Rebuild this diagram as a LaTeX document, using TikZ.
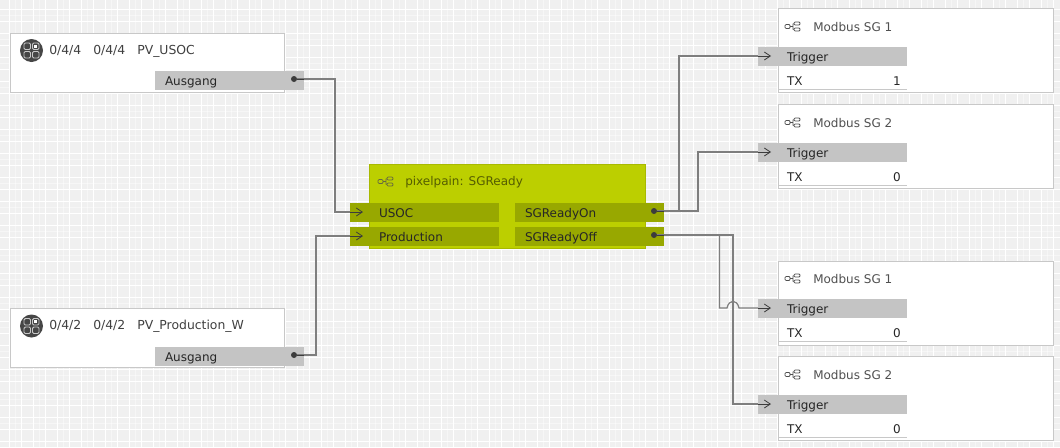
\documentclass[tikz,border=0pt]{standalone}
\usepackage{fontspec}
\setmainfont{DejaVu Sans}
\usetikzlibrary{arrows.meta}
\definecolor{gridbg}{HTML}{F0F0F0}
\definecolor{boxline}{HTML}{C8C8C8}
\definecolor{portgrey}{HTML}{C4C4C4}
\definecolor{lime}{HTML}{BCCF00}
\definecolor{limeline}{HTML}{A8B900}
\definecolor{olive}{HTML}{98A800}
\definecolor{wiregrey}{HTML}{7E7E7E}
\definecolor{pindark}{HTML}{3C3C3C}
\definecolor{titlegrey}{HTML}{505050}
\tikzset{
  block/.style={draw=boxline, line width=0.9pt, fill=white, inner sep=0pt, anchor=north west},
  kobox/.style={block, minimum width=205.5pt, minimum height=44.25pt},
  logicbox/.style={block, minimum width=206.25pt, minimum height=63pt},
  mainbox/.style={block, draw=limeline, fill=lime, minimum width=207pt, minimum height=63pt},
  field/.style={anchor=north west, inner ysep=0pt, outer sep=0pt, minimum height=14.25pt,
    align=left, text height=8.3pt, text depth=0.5pt, font=\fontsize{9}{10}\selectfont, text=black!85},
  outport/.style={field, fill=#1, inner xsep=7.5pt, text width=96.75pt},
  inport/.style={field, fill=#1, inner xsep=21.75pt, text width=68.25pt},
  txrow/.style={field, inner xsep=6.75pt, text width=83.25pt, minimum height=17.25pt, text height=12.7pt},
  title/.style={anchor=west, inner sep=0pt, font=\fontsize{9}{10}\selectfont, text=titlegrey},
  kotitle/.style={title, font=\fontsize{9.3}{10}\selectfont, text=black!75},
  dot/.style={circle, fill=pindark, inner sep=0pt, minimum size=4.5pt},
  wire/.style={draw=wiregrey, line width=0.9pt},
  pin/.style={draw=pindark, line width=0.6pt},
  pinin/.style={pin, -{Straight Barb[length=4.5pt,width=6pt]}},
  treeicon/.pic={
    \draw[draw=#1, line width=0.6pt, rounded corners=0.8pt]
      (-8,-2) rectangle (-3,2) (-3,0) -- (0,0) (0,-3) -- (0,3)
      (1,-4.5) rectangle (7,-1.5) (1,1.5) rectangle (7,4.5);
  },
  koicon/.pic={
    \fill[pindark!95] (0,0) circle (11.5);
    \draw[boxline, line width=0.7pt, rounded corners=1pt]
      (-7.5,-7.5) rectangle (-1,-1) (1,-7.5) rectangle (7.5,-1)
      (-7.5,1) rectangle (-1,7.5) (1,1) rectangle (7.5,7.5);
    \fill[white] (2.8,-5.7) rectangle (5.7,-2.8);
  }
}
\begin{document}
\begin{tikzpicture}[x=0.75pt, y=-0.75pt]
  \useasboundingbox (0,0) rectangle (1060,447);
  % raster
  \fill[gridbg] (0,0) rectangle (1060,447);
  \foreach \k in {0,...,87} \draw[white, line width=0.75pt] ({9+12*\k},0) -- ({9+12*\k},447);
  \foreach \k in {0,...,36} \draw[white, line width=0.75pt] (0,{9+12*\k}) -- (1060,{9+12*\k});
  \foreach \k in {0,...,43} \draw[white, opacity=0.45, line width=0.5pt] ({15+24*\k},0) -- ({15+24*\k},447);
  \foreach \k in {0,...,17} \draw[white, opacity=0.45, line width=0.5pt] (0,{15+24*\k}) -- (1060,{15+24*\k});

  % group addresses
  \node[kobox] (usocbox) at (10,33) {};
  \pic at (31.5,50.5) {koicon};
  \node[kotitle] (usoctitle) at (49,51.5) {0/4/4\hspace{9pt}0/4/4\hspace{9pt}PV\_USOC};
  \node[outport=portgrey] (usocport) at (155,71) {Ausgang};
  \node[dot] (usocdot) at (294,79) {};

  \node[kobox] (prodbox) at (10,308) {};
  \pic at (31.5,326) {koicon};
  \node[kotitle] (prodtitle) at (49,326.5) {0/4/2\hspace{9pt}0/4/2\hspace{9pt}PV\_Production\_W};
  \node[outport=portgrey] (prodport) at (155,347) {Ausgang};
  \node[dot] (proddot) at (294,355) {};

  % logic
  \node[mainbox] (sgbox) at (369,164) {};
  \pic at (386,181.5) {treeicon=titlegrey!80!lime};
  \node[title, text=black!55!lime] (sgtitle) at (405,182.5) {pixelpain: SGReady};
  \node[inport=olive] (usocin) at (350,203) {USOC};
  \node[inport=olive] (prodin) at (350,227) {Production};
  \node[outport=olive] (onport) at (515,203) {SGReadyOn};
  \node[outport=olive] (offport) at (515,227) {SGReadyOff};
  \node[dot] (ondot) at (654,211) {};
  \node[dot] (offdot) at (654,235) {};
  \coordinate (usocend) at (350,212);
  \coordinate (usoctip) at (363,212);
  \coordinate (prodend) at (350,236);
  \coordinate (prodtip) at (363,236);

  % modbus outputs
  \node[logicbox] (sgone) at (778,8) {};
  \pic at (793,26.5) {treeicon=titlegrey};
  \node[title] (sgonetitle) at (813,27.5) {Modbus SG 1};
  \node[inport=portgrey] (sgonein) at (758,47) {Trigger};
  \node[txrow] (sgonetx) at (778,66) {TX\hfill 1\hspace*{-2pt}};
  \draw[boxline] (sgonetx.south west) -- (sgonetx.south east);
  \coordinate (sgoneend) at (758,56);
  \coordinate (sgonetip) at (771,56);

  \node[logicbox] (sgtwo) at (778,104) {};
  \pic at (793,122.5) {treeicon=titlegrey};
  \node[title] (sgtwotitle) at (813,123.5) {Modbus SG 2};
  \node[inport=portgrey] (sgtwoin) at (758,143) {Trigger};
  \node[txrow] (sgtwotx) at (778,162) {TX\hfill 0\hspace*{-2pt}};
  \draw[boxline] (sgtwotx.south west) -- (sgtwotx.south east);
  \coordinate (sgtwoend) at (758,152);
  \coordinate (sgtwotip) at (771,152);

  \node[logicbox] (sgthree) at (778,261) {};
  \pic at (793,278.5) {treeicon=titlegrey};
  \node[title] (sgthreetitle) at (813,279.5) {Modbus SG 1};
  \node[inport=portgrey] (sgthreein) at (758,299) {Trigger};
  \node[txrow] (sgthreetx) at (778,318) {TX\hfill 0\hspace*{-2pt}};
  \draw[boxline] (sgthreetx.south west) -- (sgthreetx.south east);
  \coordinate (sgthreeend) at (758,308);
  \coordinate (sgthreetip) at (771,308);

  \node[logicbox] (sgfour) at (778,356) {};
  \pic at (793,374.5) {treeicon=titlegrey};
  \node[title] (sgfourtitle) at (813,375.5) {Modbus SG 2};
  \node[inport=portgrey] (sgfourin) at (758,395) {Trigger};
  \node[txrow] (sgfourtx) at (778,414) {TX\hfill 0\hspace*{-2pt}};
  \draw[boxline] (sgfourtx.south west) -- (sgfourtx.south east);
  \coordinate (sgfourend) at (758,404);
  \coordinate (sgfourtip) at (771,404);

  % wires
  \draw[wire] (usocdot) -- (335,79) |- (usocend);
  \draw[wire] (proddot) -- (316,355) |- (prodend);
  \draw[wire] (ondot) -- (679,211) |- (sgoneend);
  \draw[wire] (ondot) -- (698,211) |- (sgtwoend);
  \draw[wire] (offdot) -- (733,235) |- (sgfourend);
  \draw[wire] (offdot) -- (719.4,235) |- (727,308)
    .. controls (729,299) and (737,299) .. (739,308) -- (sgthreeend);
  \draw[pinin] (usocend) -- (usoctip);
  \draw[pinin] (prodend) -- (prodtip);
  \draw[pinin] (sgoneend) -- (sgonetip);
  \draw[pinin] (sgtwoend) -- (sgtwotip);
  \draw[pinin] (sgthreeend) -- (sgthreetip);
  \draw[pinin] (sgfourend) -- (sgfourtip);
  \draw[pin] (usocdot) -- (304,79);
  \draw[pin] (proddot) -- (304,355);
  \draw[pin] (ondot) -- (664,211);
  \draw[pin] (offdot) -- (664,235);
\end{tikzpicture}
\end{document}
